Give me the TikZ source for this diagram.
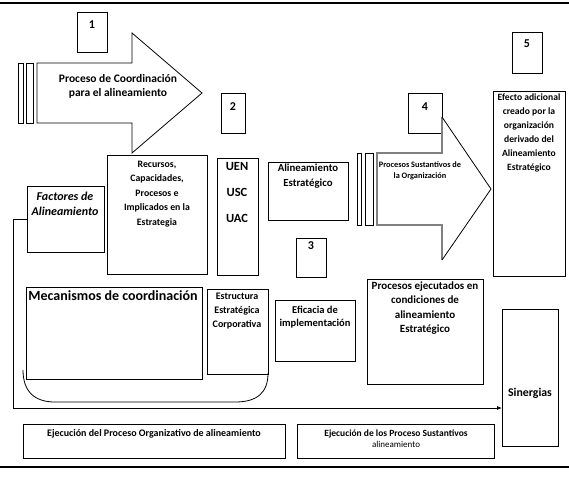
\documentclass[tikz,border=0pt]{standalone}
\usepackage{fontspec}
\setmainfont{Carlito}
\usetikzlibrary{arrows.meta}

\begin{document}
\begin{tikzpicture}[x=1pt, y=-1pt, line width=0.8pt,
  every node/.style={font=\bfseries, inner sep=0pt},
  box/.style={draw, anchor=north west},
  num/.style={font=\bfseries\fontsize{12}{14}\selectfont}]
  \useasboundingbox (0,0) rectangle (569,479);

  % Frame lines
  \draw[line width=1.2pt] (0,3) -- (569,3);
  \draw[line width=1.2pt] (0,467) -- (569,467);

  % Numbered boxes
  \node[box, minimum width=30pt, minimum height=40pt] (b1) at (77,12) {};
  \node[num] (n1) at (92,25) {1};
  \node[box, minimum width=24pt, minimum height=40pt] (b2) at (221,93) {};
  \node[num] (n2) at (233,107) {2};
  \node[box, minimum width=30pt, minimum height=39pt] (b3) at (296,238) {};
  \node[num] (n3) at (311,246) {3};
  \node[box, minimum width=34pt, minimum height=40pt] (b4) at (408,93) {};
  \node[num] (n4) at (425,107) {4};
  \node[box, minimum width=30pt, minimum height=41pt] (b5) at (512,32) {};
  \node[num] (n5) at (527,44) {5};

  % Coordination arrow
  \draw (18,63) rectangle (23,123);
  \draw (26,63) rectangle (33,123);
  \draw (37,63) -- (132,63) -- (132,33) -- (202,93) -- (132,153) -- (132,123) -- (37,123) -- cycle;
  \node[align=center, font=\bfseries\fontsize{11.5}{14}\selectfont] (coord) at (118,86)
    {Proceso de Coordinación\\para el alineamiento};

  % Substantive processes arrow
  \draw (357,153) rectangle (361,225);
  \draw (365,153) rectangle (373,225);
  \draw[gray, line width=1.2pt] (442,117) -- (442,153) -- (377,153) -- (377,225) -- (442,225) -- (442,260);
  \draw (442,117) -- (491,189) -- (442,260);
  \node[align=center, font=\bfseries\fontsize{8.3}{10.5}\selectfont] (sust) at (420,171)
    {Procesos Sustantivos de\\la Organización};

  % Upper row of boxes
  \node[box, minimum width=100pt, minimum height=119pt] (rec) at (107,155) {};
  \node[align=center, font=\bfseries\fontsize{9.8}{14.5}\selectfont] (rect) at (157,194)
    {Recursos,\\Capacidades,\\Procesos e\\Implicados en la\\Estrategia};
  \node[box, minimum width=41pt, minimum height=117pt] (uen) at (217,158) {};
  \node[align=center, font=\bfseries\fontsize{12.5}{26}\selectfont] (uent) at (237,192)
    {UEN\\USC\\UAC};
  \node[box, minimum width=77pt, minimum height=66pt] (fac) at (27,186) {};
  \node[align=center, font=\bfseries\itshape\fontsize{12}{15}\selectfont] (fact) at (65,204)
    {Factores de\\Alineamiento};
  \node[box, minimum width=80pt, minimum height=58pt] (ali) at (268,162) {};
  \node[align=center, font=\bfseries\fontsize{10.8}{14.5}\selectfont] (alit) at (308,176)
    {Alineamiento\\Estratégico};
  \node[box, minimum width=72pt, minimum height=185pt] (efe) at (493,91) {};
  \node[align=center, font=\bfseries\fontsize{9.6}{14}\selectfont] (efet) at (529,133)
    {Efecto adicional\\creado por la\\organización\\derivado del\\Alineamiento\\Estratégico};

  % Lower row of boxes
  \node[box, minimum width=176pt, minimum height=92pt] (mec) at (26,287) {};
  \node[anchor=west, font=\bfseries\fontsize{14}{16}\selectfont] (mect) at (28,296)
    {Mecanismos de coordinación};
  \node[box, minimum width=61pt, minimum height=85pt] (est) at (207,289) {};
  \node[align=center, font=\bfseries\fontsize{10}{14}\selectfont] (estt) at (237,311)
    {Estructura\\Estratégica\\Corporativa};
  \node[box, minimum width=80pt, minimum height=61pt] (efi) at (275,300) {};
  \node[align=center, font=\bfseries\fontsize{10.5}{13.5}\selectfont] (efit) at (315,317)
    {Eficacia de\\implementación};
  \node[box, minimum width=116pt, minimum height=105pt] (pej) at (367,279) {};
  \node[align=center, font=\bfseries\fontsize{11}{14.5}\selectfont] (pejt) at (425,308)
    {Procesos ejecutados en\\condiciones de\\alineamiento\\Estratégico};
  \node[box, minimum width=56pt, minimum height=137pt] (sin) at (502,309) {};
  \node[font=\bfseries\fontsize{11.8}{14}\selectfont] (sint) at (530,393) {Sinergias};

  % Bracket under the mechanisms
  \draw (23,370) .. controls (23,392) and (35,402) .. (55,402) -- (235,402)
    .. controls (258,402) and (268,392) .. (268,373);

  % Alignment factors to synergies
  \coordinate (bend) at (13,408);
  \draw[-{Latex[length=5pt,width=4pt]}] (fac.west) -| (bend) -- (bend -| sin.west);

  % Execution boxes
  \node[box, minimum width=262pt, minimum height=34pt] (ej1) at (23,424) {};
  \node[font=\bfseries\fontsize{10}{12}\selectfont] (ej1t) at (154,434)
    {Ejecución del Proceso Organizativo de alineamiento};
  \node[box, minimum width=197pt, minimum height=34pt] (ej2) at (297,424) {};
  \node[align=center, font=\fontsize{9}{11}\selectfont] (ej2t) at (396,439)
    {\textbf{\fontsize{9.5}{11}\selectfont Ejecución de los Proceso Sustantivos}\\alineamiento};
\end{tikzpicture}
\end{document}
